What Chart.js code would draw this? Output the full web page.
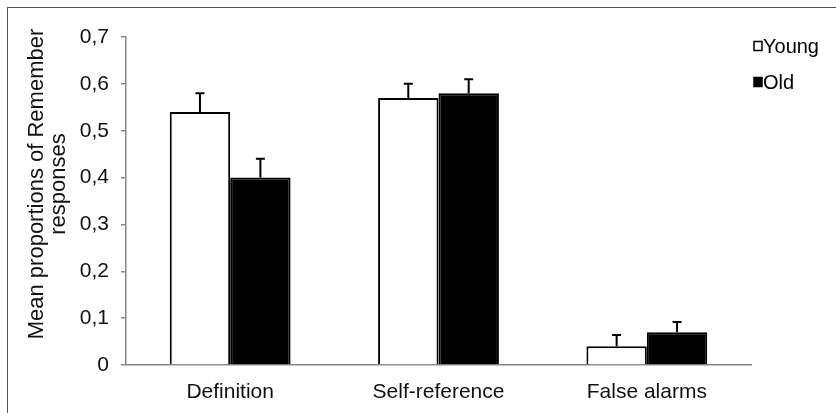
<!DOCTYPE html>
<html>
<head>
<meta charset="utf-8">
<script src="https://cdn.jsdelivr.net/npm/chart.js@4/dist/chart.umd.min.js"></script>
<style>
  html, body { margin: 0; padding: 0; background: #fff; }
  #wrap {
    position: absolute; left: 7px; top: 7px;
    width: 829px; height: 406px;
    border-top: 1px solid #555; border-left: 1px solid #555;
  }
</style>
</head>
<body>
<div id="wrap"><canvas id="memChart" width="828" height="405"></canvas></div>
<script>
"use strict";

const categories = ["Definition", "Self-reference", "False alarms"];
const youngVals = [0.54, 0.57, 0.04];
const oldVals = [0.40, 0.58, 0.07];
const youngErr = [0.04, 0.03, 0.024];
const oldErr = [0.04, 0.03, 0.022];
const yTicks = [0, 0.1, 0.2, 0.3, 0.4, 0.5, 0.6, 0.7];
const yTitle = ["Mean proportions of Remember", "responses"];

const FONT = "'Liberation Sans', Arial, sans-serif";

// one-sided error bars with a cap, drawn through the y scale
const errorBars = {
    id: "errorBars",
    afterDatasetsDraw(chart) {
        const ctx = chart.ctx;
        const yScale = chart.scales.y;
        chart.data.datasets.forEach((ds, di) => {
            const meta = chart.getDatasetMeta(di);
            meta.data.forEach((bar, i) => {
                const top = yScale.getPixelForValue(ds.data[i] + ds.errors[i]);
                ctx.save();
                ctx.strokeStyle = "#000";
                ctx.lineWidth = 2;
                ctx.beginPath();
                ctx.moveTo(bar.x, bar.y);
                ctx.lineTo(bar.x, top);
                ctx.moveTo(bar.x - 4.5, top);
                ctx.lineTo(bar.x + 4.5, top);
                ctx.stroke();
                ctx.restore();
            });
        });
    }
};

// legend in the top right corner, like the original
const sideLegend = {
    id: "sideLegend",
    afterDraw(chart) {
        const ctx = chart.ctx;
        const x = chart.chartArea.right + 3;
        const rows = [38, 74];
        ctx.save();
        ctx.font = "20px " + FONT;
        ctx.textBaseline = "middle";
        chart.data.datasets.forEach((ds, i) => {
            const y = rows[i];
            ctx.fillStyle = ds.backgroundColor;
            ctx.fillRect(x, y - 4.5, 8, 9);
            ctx.strokeStyle = "#000";
            ctx.lineWidth = 1.5;
            ctx.strokeRect(x, y - 4.5, 8, 9);
            ctx.fillStyle = "#000";
            ctx.fillText(ds.label, x + 9, y + 1);
        });
        ctx.restore();
    }
};

// y axis title, centred a bit higher than the plot area as in the original
const sideTitle = {
    id: "sideTitle",
    afterDraw(chart) {
        const ctx = chart.ctx;
        ctx.save();
        ctx.translate(29, 176);
        ctx.rotate(-Math.PI / 2);
        ctx.font = "22px " + FONT;
        ctx.fillStyle = "#111";
        ctx.textAlign = "center";
        ctx.textBaseline = "middle";
        yTitle.forEach((line, i) => ctx.fillText(line, 0, i * 22));
        ctx.restore();
    }
};

new Chart(document.getElementById("memChart"), {
    type: "bar",
    data: {
        labels: categories,
        datasets: [{
            label: "Young",
            data: youngVals,
            errors: youngErr,
            backgroundColor: "#fff",
            borderColor: "#000",
            borderWidth: 2,
            categoryPercentage: 0.58,
            barPercentage: 1
        }, {
            label: "Old",
            data: oldVals,
            errors: oldErr,
            backgroundColor: "#000",
            borderColor: "#000",
            borderWidth: 2,
            categoryPercentage: 0.58,
            barPercentage: 1
        }]
    },
    options: {
        responsive: false,
        animation: false,
        layout: { padding: { top: 29, right: 85, left: 0, bottom: 0 } },
        plugins: {
            legend: { display: false },
            tooltip: { enabled: false }
        },
        scales: {
            x: {
                grid: { display: false },
                border: { color: "#888", width: 1.5 },
                ticks: { color: "#111", font: { family: FONT, size: 21 }, padding: 7 },
                afterFit(scale) { scale.height = 48; }
            },
            y: {
                min: 0,
                max: 0.7,
                afterBuildTicks(scale) { scale.ticks = yTicks.map(v => ({ value: v })); },
                grid: { drawOnChartArea: false, color: "#888", tickLength: 5, lineWidth: 1.5 },
                border: { color: "#888", width: 1.5 },
                ticks: {
                    color: "#111",
                    font: { family: FONT, size: 21 },
                    padding: 12,
                    callback: v => v === 0 ? "0" : v.toFixed(1).replace(".", ",")
                },
                afterFit(scale) { scale.width = 118; }
            }
        }
    },
    plugins: [errorBars, sideLegend, sideTitle]
});
</script>
</body>
</html>
